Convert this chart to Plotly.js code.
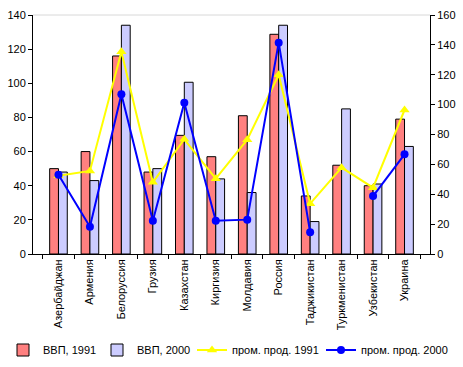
<!DOCTYPE html>
<html>
<head>
<meta charset="utf-8">
<script src="https://cdn.plot.ly/plotly-3.0.1.min.js"></script>
<style>html,body{margin:0;padding:0;background:#fff}#chart{width:463px;height:367px}</style>
</head>
<body>
<div id="chart"></div>
<script>
const categories = ["Азербайджан","Армения","Белоруссия","Грузия","Казахстан","Киргизия","Молдавия","Россия","Таджикистан","Туркменистан","Узбекистан","Украина"];
const gdp1991 = [50, 60, 116, 48, 69.5, 57, 81, 128.7, 34, 52, 40, 79];
const gdp2000 = [48, 43, 134, 50, 100.6, 44, 36, 134, 19, 85, 41, 63];
const prod1991 = [52.4, 55.6, 135.4, 48, 76.8, 50.4, 76.5, 120, 33.7, 57.8, 44.4, 96.4];
const prod2000 = [53.1, 18.3, 106.9, 22.3, 101.3, 22.3, 23, 141.5, 14.5, null, 38.8, 66.7];
const leftTicks = [0,20,40,60,80,100,120,140];
const rightTicks = [0,20,40,60,80,100,120,140,160];

const font = {family: "Liberation Sans, Arial, sans-serif", size: 11, color: "#000"};
const W = 463, H = 367;

function legendAt(px) {
  return {orientation:"h", xref:"container", yref:"container", x:px / W, xanchor:"left",
          y:17 / H, yanchor:"middle", font:font, itemwidth:30, bgcolor:"rgba(0,0,0,0)",
          borderwidth:0};
}

const traces = [
  {type:"bar", name:"ВВП, 1991", x:categories, y:gdp1991, yaxis:"y", legend:"legend",
   marker:{color:"#FF8080", line:{color:"#000", width:1}}},
  {type:"bar", name:"ВВП, 2000", x:categories, y:gdp2000, yaxis:"y", legend:"legend2",
   marker:{color:"#CCCCFF", line:{color:"#000", width:1}}},
  {type:"scatter", mode:"lines+markers", name:"пром. прод. 1991", x:categories, y:prod1991, yaxis:"y2",
   legend:"legend3",
   line:{color:"#FFFF00", width:2}, marker:{symbol:"triangle-up", size:9, color:"#FFFF00"}},
  {type:"scatter", mode:"lines+markers", name:"пром. прод. 2000", x:categories, y:prod2000, yaxis:"y2",
   legend:"legend4", connectgaps:false,
   line:{color:"#0000FF", width:2}, marker:{symbol:"circle", size:8, color:"#0000FF"}}
];

const layout = {
  width:W, height:H,
  margin:{l:33, r:33, t:15, b:113},
  paper_bgcolor:"#fff", plot_bgcolor:"#fff",
  font:font,
  barmode:"group", bargap:0.44, bargroupgap:0,
  showlegend:true,
  legend:legendAt(3),
  legend2:legendAt(97),
  legend3:legendAt(192),
  legend4:legendAt(321),
  xaxis:{type:"category", tickangle:-90, showline:true, linecolor:"#000", linewidth:1,
         ticks:"outside", ticklen:4, tickcolor:"#000", tickson:"boundaries",
         showgrid:false, zeroline:false, tickfont:font, fixedrange:true, automargin:false},
  yaxis:{range:[0,140], tickvals:leftTicks, ticks:"outside", ticklen:4, tickcolor:"#000",
         showline:true, linecolor:"#000", linewidth:1, showgrid:false, zeroline:false,
         tickfont:font, fixedrange:true, automargin:false},
  yaxis2:{range:[0,160], tickvals:rightTicks, overlaying:"y", side:"right", ticks:"outside", ticklen:4,
          tickcolor:"#000", showline:true, linecolor:"#000", linewidth:1, showgrid:false,
          zeroline:false, tickfont:font, fixedrange:true, automargin:false},
  shapes:[{type:"line", xref:"paper", yref:"paper", x0:0, x1:1, y0:1, y1:1,
           line:{color:"#D8D8D8", width:1}}]
};

Plotly.newPlot("chart", traces, layout, {displayModeBar:false, staticPlot:true});
</script>
</body>
</html>
